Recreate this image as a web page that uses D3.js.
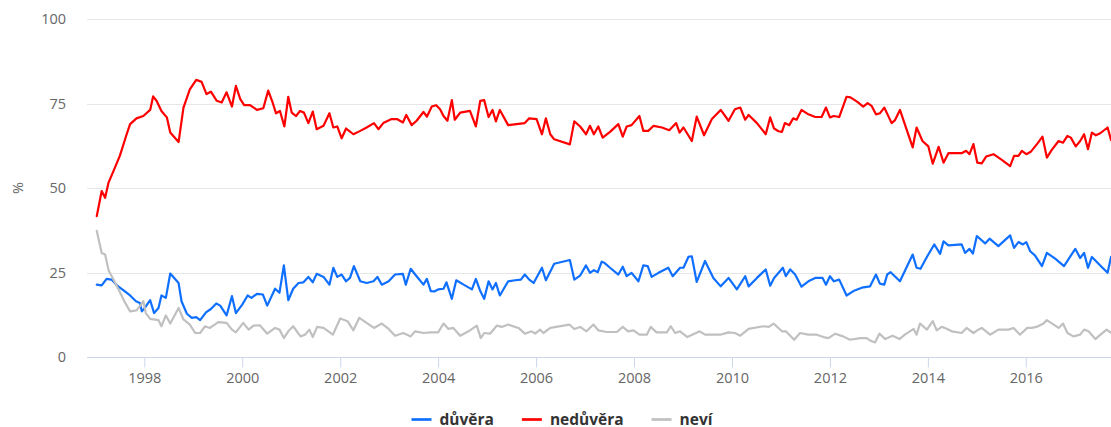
<!DOCTYPE html>
<html>
<head>
  <meta charset="utf-8">
  <title>důvěra / nedůvěra</title>
  <script src="https://d3js.org/d3.v7.min.js"></script>
  <style>
    body { margin: 0; background: #fff; }
    svg { display: block; font-family: "Open Sans", "DejaVu Sans", Arial, sans-serif; }
  </style>
</head>
<body>
  <svg width="1111" height="427"></svg>
  <script>
    // hodnoty: [rok (desetinně), %]
    var duvera = [
      [1997.03,21.4],[1997.13,21.2],[1997.23,23.1],[1997.33,22.9],[1997.44,21.2],[1997.57,19.8],[1997.71,18.2],[1997.83,16.5],[1997.91,16],[1997.95,13.5],
      [1998.01,14.5],[1998.12,16.8],[1998.20,13],[1998.29,14.5],[1998.35,18.2],[1998.44,17.5],[1998.53,24.7],[1998.70,21.9],[1998.76,16.5],[1998.87,12.8],[1998.97,11.6],
      [1999.06,11.8],[1999.14,10.9],[1999.26,13.2],[1999.36,14.2],[1999.47,15.8],[1999.55,15.2],[1999.68,12.3],[1999.79,18],[1999.87,13],
      [2000.00,15.5],[2000.11,18.2],[2000.19,17.5],[2000.30,18.7],[2000.42,18.5],[2000.51,15.2],[2000.67,20.2],[2000.76,19],[2000.85,27.1],[2000.94,16.8],
      [2001.04,20.2],[2001.15,21.9],[2001.25,22.1],[2001.35,23.7],[2001.44,22.1],[2001.52,24.6],[2001.66,23.7],[2001.78,21.4],[2001.86,26.4],[2001.94,23.7],
      [2002.03,24.4],[2002.12,22.4],[2002.20,23.4],[2002.28,26.9],[2002.41,22.4],[2002.54,21.9],[2002.68,22.4],[2002.76,23.7],[2002.85,21.4],[2002.99,22.4],
      [2003.12,24.4],[2003.28,24.6],[2003.34,21.4],[2003.44,26.1],[2003.56,23.9],[2003.70,21.4],[2003.77,23.1],[2003.85,19.5],[2003.92,19.4],
      [2004.00,20],[2004.11,20.2],[2004.17,22.1],[2004.28,17.2],[2004.37,22.7],[2004.52,21.4],[2004.69,20],[2004.77,23.1],[2004.86,19.5],[2004.94,17.2],
      [2005.03,22.4],[2005.11,20],[2005.18,21.9],[2005.26,18.2],[2005.43,22.4],[2005.57,22.7],[2005.69,22.9],[2005.77,24.4],[2005.86,22.9],[2005.95,21.9],
      [2006.12,26.4],[2006.20,22.7],[2006.37,27.6],[2006.69,28.7],[2006.78,22.9],[2006.90,24.1],
      [2007.02,27.1],[2007.10,24.9],[2007.18,25.7],[2007.26,25.1],[2007.34,28.2],[2007.39,27.9],[2007.51,26.4],[2007.68,24.4],[2007.77,26.7],[2007.85,23.9],[2007.95,24.9],
      [2008.09,22.4],[2008.19,27.1],[2008.28,26.9],[2008.36,23.7],[2008.50,24.9],[2008.70,26.4],[2008.79,23.9],[2008.94,26.4],
      [2009.01,26.4],[2009.11,29.6],[2009.18,29.8],[2009.28,22.2],[2009.45,28.4],[2009.62,23.4],[2009.77,20.9],[2009.93,23.4],
      [2010.10,20],[2010.27,23.9],[2010.34,20.9],[2010.51,23.4],[2010.69,25.9],[2010.78,21.1],[2010.86,23.4],
      [2011.04,26.4],[2011.10,23.9],[2011.19,25.9],[2011.29,24.4],[2011.42,20.8],[2011.56,22.4],[2011.70,23.4],[2011.85,23.4],[2011.92,21.4],
      [2012.00,23.9],[2012.08,22.4],[2012.19,22.9],[2012.34,18.2],[2012.48,19.5],[2012.65,20.5],[2012.82,20.9],[2012.94,24.4],
      [2013.02,21.7],[2013.11,21.4],[2013.17,24.4],[2013.24,25.1],[2013.43,22.4],[2013.69,30.3],[2013.77,26.4],[2013.85,26.1],[2013.98,29.6],
      [2014.13,33.3],[2014.25,30.5],[2014.32,34.2],[2014.42,33],[2014.69,33.3],[2014.76,30.8],[2014.85,32],[2014.92,30.6],
      [2015.00,35.8],[2015.17,33.6],[2015.26,35],[2015.44,32.8],[2015.68,36],[2015.76,32.3],[2015.85,34],[2015.94,33.3],
      [2016.01,34],[2016.09,31.3],[2016.19,30],[2016.33,26.9],[2016.43,30.8],[2016.60,29.1],[2016.78,26.9],
      [2017.01,32],[2017.11,29.3],[2017.19,30.8],[2017.27,26.4],[2017.35,29.6],[2017.52,27.1],[2017.67,24.9],[2017.74,29.6]
    ];

    var neduvera = [
      [1997.03,41.7],[1997.13,49.1],[1997.20,47.1],[1997.27,51.6],[1997.37,55],[1997.50,59.5],[1997.64,65.9],[1997.71,68.9],[1997.84,70.6],[1997.98,71.3],
      [1998.12,73.1],[1998.18,77.1],[1998.25,75.8],[1998.35,72.8],[1998.46,70.9],[1998.53,66.4],[1998.70,63.6],[1998.80,73.8],[1998.93,79.2],
      [1999.06,82],[1999.17,81.4],[1999.27,77.8],[1999.36,78.5],[1999.48,75.8],[1999.58,75.3],[1999.68,78.3],[1999.79,74.1],[1999.87,80.2],[1999.96,76.3],
      [2000.04,74.5],[2000.16,74.5],[2000.30,73.1],[2000.43,73.6],[2000.53,78.8],[2000.62,75.3],[2000.69,72.1],[2000.77,72.8],[2000.86,68.2],[2000.94,77],
      [2001.01,72.3],[2001.10,71.3],[2001.18,72.8],[2001.26,72.3],[2001.35,69.2],[2001.44,72.6],[2001.52,67.4],[2001.66,68.4],[2001.78,72.1],[2001.86,67.9],[2001.94,68.2],
      [2002.03,64.7],[2002.12,67.6],[2002.27,65.9],[2002.41,66.9],[2002.54,67.9],[2002.69,69.2],[2002.78,67.4],[2002.88,69.2],
      [2003.05,70.4],[2003.16,70.4],[2003.28,69.4],[2003.35,71.6],[2003.46,68.6],[2003.56,69.9],[2003.70,72.5],[2003.77,71.1],[2003.87,74.1],[2003.96,74.5],
      [2004.04,73.3],[2004.11,71.3],[2004.19,69.9],[2004.28,76],[2004.34,70.2],[2004.45,72.3],[2004.65,72.8],[2004.77,68.2],[2004.86,75.8],[2004.94,76],
      [2005.03,71],[2005.11,73.1],[2005.18,69.7],[2005.26,73.1],[2005.43,68.6],[2005.60,68.9],[2005.77,69.2],[2005.86,70.6],
      [2006.01,70.4],[2006.12,65.9],[2006.20,70.6],[2006.29,65.9],[2006.37,64.4],[2006.69,62.9],[2006.78,69.7],[2006.90,68.2],
      [2007.02,65.9],[2007.10,68.4],[2007.18,65.9],[2007.27,68.2],[2007.36,64.9],[2007.51,66.6],[2007.68,68.9],[2007.77,65.2],[2007.85,68.2],[2007.95,68.6],
      [2008.11,71.3],[2008.19,66.9],[2008.29,66.9],[2008.40,68.4],[2008.57,67.9],[2008.72,67.1],[2008.86,69.2],[2008.93,66.4],
      [2009.01,67.9],[2009.18,63.9],[2009.28,71.1],[2009.43,65.6],[2009.59,70.4],[2009.77,73.1],[2009.93,69.9],
      [2010.06,73.3],[2010.17,73.8],[2010.27,70.2],[2010.34,71.6],[2010.51,69.2],[2010.69,65.9],[2010.78,70.9],[2010.86,67.6],[2010.95,66.8],
      [2011.02,66.6],[2011.08,69.2],[2011.17,68.6],[2011.25,70.6],[2011.32,70.2],[2011.42,73.1],[2011.56,71.8],[2011.70,71],[2011.83,71],[2011.92,73.8],
      [2012.00,70.9],[2012.08,71.3],[2012.19,71],[2012.34,77],[2012.42,76.8],[2012.56,75.5],[2012.68,74.1],[2012.77,75.1],[2012.85,74.3],[2012.94,71.8],
      [2013.02,72.1],[2013.11,73.8],[2013.26,69.2],[2013.33,70.1],[2013.43,73.1],[2013.69,62],[2013.77,67.9],[2013.89,63.9],
      [2014.01,62.3],[2014.10,57.2],[2014.22,62.2],[2014.32,57.5],[2014.42,60.3],[2014.69,60.3],[2014.78,61],[2014.85,60],[2014.93,63],
      [2015.01,57.5],[2015.10,57.3],[2015.19,59.3],[2015.34,60],[2015.51,58.3],[2015.68,56.5],[2015.76,59.5],[2015.85,59.5],[2015.92,61],
      [2016.01,60],[2016.10,60.7],[2016.24,63.2],[2016.34,65.2],[2016.43,59],[2016.53,61.3],[2016.67,63.9],[2016.76,63.4],[2016.85,65.4],[2016.92,64.9],
      [2017.02,62.3],[2017.11,63.9],[2017.19,65.9],[2017.27,61.5],[2017.35,66.4],[2017.43,65.6],[2017.52,66.2],[2017.67,67.9],[2017.74,64.2]
    ];

    var nevi = [
      [1997.03,37.3],[1997.13,30.8],[1997.20,30.3],[1997.27,25.7],[1997.37,22.9],[1997.50,19.2],[1997.61,16],[1997.71,13.5],[1997.84,13.8],[1997.91,15],[1997.98,16.5],
      [1998.03,13],[1998.12,11.3],[1998.29,10.9],[1998.35,9.1],[1998.44,12.3],[1998.53,9.9],[1998.70,14.5],[1998.80,11.1],[1998.93,9.6],
      [1999.04,7.1],[1999.14,7.1],[1999.24,9.1],[1999.34,8.6],[1999.51,10.3],[1999.68,10.1],[1999.79,8.1],[1999.87,7.3],
      [2000.02,10.1],[2000.13,8.1],[2000.23,9.3],[2000.36,9.4],[2000.51,6.9],[2000.67,8.6],[2000.76,8.1],[2000.85,5.6],[2000.94,7.6],
      [2001.04,9.1],[2001.19,6.1],[2001.28,6.6],[2001.37,8.1],[2001.44,5.9],[2001.53,8.9],[2001.66,8.6],[2001.85,6.6],
      [2002.00,11.4],[2002.15,10.6],[2002.27,7.9],[2002.39,11.6],[2002.54,10.1],[2002.69,8.6],[2002.85,9.9],[2002.99,8.3],
      [2003.12,6.3],[2003.29,7.1],[2003.44,6.1],[2003.53,7.6],[2003.70,7.1],[2003.84,7.3],
      [2004.00,7.3],[2004.11,9.9],[2004.21,8.3],[2004.31,8.6],[2004.45,6.3],[2004.62,7.6],[2004.79,9.3],[2004.87,5.6],[2004.94,7.1],
      [2005.06,6.9],[2005.20,9.3],[2005.30,8.9],[2005.43,9.6],[2005.64,8.6],[2005.77,6.9],[2005.91,7.6],[2005.98,6.9],
      [2006.08,8.1],[2006.15,7.1],[2006.29,8.6],[2006.56,9.3],[2006.68,9.6],[2006.78,8.3],[2006.90,8.9],
      [2007.03,7.6],[2007.17,9.6],[2007.27,7.9],[2007.44,7.4],[2007.65,7.4],[2007.77,8.9],[2007.88,7.6],[2007.99,7.9],
      [2008.11,6.6],[2008.26,6.6],[2008.34,8.9],[2008.46,7.3],[2008.67,7.3],[2008.75,9.1],[2008.84,7.1],[2008.94,7.6],
      [2009.09,5.9],[2009.34,7.6],[2009.45,6.6],[2009.76,6.6],[2009.93,7.3],
      [2010.06,7.1],[2010.17,6.3],[2010.34,8.3],[2010.64,9.1],[2010.75,8.9],[2010.85,9.9],
      [2011.02,7.6],[2011.10,7.6],[2011.27,5.1],[2011.39,7.1],[2011.56,6.6],[2011.73,6.6],[2011.87,5.9],[2011.97,5.6],
      [2012.11,6.9],[2012.27,6.1],[2012.41,5.1],[2012.62,5.6],[2012.75,5.6],[2012.82,4.9],[2012.92,4.3],
      [2013.01,6.9],[2013.13,5.3],[2013.28,6.3],[2013.42,5.3],[2013.53,6.6],[2013.71,8.3],[2013.77,6.6],[2013.84,9.9],[2013.98,8.1],
      [2014.10,10.6],[2014.18,7.9],[2014.28,8.9],[2014.35,8.6],[2014.49,7.6],[2014.69,7.1],[2014.79,8.6],[2014.93,7.1],
      [2015.01,7.9],[2015.10,8.6],[2015.27,6.6],[2015.44,8.1],[2015.65,8.1],[2015.75,8.6],[2015.88,6.6],
      [2016.03,8.6],[2016.12,8.6],[2016.22,8.9],[2016.36,9.9],[2016.43,10.9],[2016.60,9.3],[2016.67,8.6],[2016.76,9.9],[2016.85,7.1],[2016.97,6.1],
      [2017.11,6.6],[2017.19,8.1],[2017.28,7.6],[2017.42,5.3],[2017.50,6.3],[2017.65,8.1],[2017.74,7.1]
    ];

    var seriesNames = ["důvěra", "nedůvěra", "neví"];
    var seriesColors = ["#0f6fff", "#ff0000", "#c0c0c0"];
    var yTicks = [0, 25, 50, 75, 100];
    var xTicks = [1998, 2000, 2002, 2004, 2006, 2008, 2010, 2012, 2014, 2016];

    (function () {
      var svg = d3.select("svg");
      var m = { left: 87, right: 1112, top: 19, bottom: 357 };

      var x = d3.scaleLinear().domain([1996.83, 2017.76]).range([m.left, m.right]);
      var y = d3.scaleLinear().domain([0, 100]).range([m.bottom, m.top]);
      var base = Math.round(m.bottom) + 0.5;

      // mřížka
      svg.append("g")
        .selectAll("line")
        .data(yTicks.filter(function (d) { return d > 0; }))
        .enter()
        .append("line")
        .attr("x1", m.left).attr("x2", 1111)
        .attr("y1", function (d) { return Math.round(y(d)) + 0.5; })
        .attr("y2", function (d) { return Math.round(y(d)) + 0.5; })
        .attr("stroke", "#e6e6e6");

      // osa Y
      var yAxis = svg.append("g")
        .attr("transform", "translate(" + (m.left - 21) + ",0)")
        .call(d3.axisLeft(y).tickValues(yTicks).tickSize(0).tickPadding(0));
      yAxis.attr("font-family", null).attr("font-size", null);
      yAxis.select(".domain").remove();
      yAxis.selectAll("text")
        .attr("fill", "#666")
        .style("font-size", "14.5px");

      svg.append("text")
        .attr("transform", "translate(18," + y(50) + ") rotate(-90)")
        .attr("text-anchor", "middle")
        .attr("dy", "0.35em")
        .attr("fill", "#666")
        .style("font-size", "14.5px")
        .text("%");

      // osa X
      var xAxis = svg.append("g")
        .attr("transform", "translate(0," + base + ")")
        .call(d3.axisBottom(x).tickValues(xTicks).tickFormat(d3.format("d")).tickSize(10).tickPadding(0));
      xAxis.attr("font-family", null).attr("font-size", null);
      xAxis.select(".domain").remove();
      xAxis.selectAll(".tick line").attr("stroke", "#ccd6eb");
      xAxis.selectAll("text")
        .attr("y", 20)
        .attr("dy", "0.35em")
        .attr("fill", "#666")
        .style("font-size", "14.5px");

      svg.append("line")
        .attr("x1", m.left).attr("x2", 1111)
        .attr("y1", base).attr("y2", base)
        .attr("stroke", "#ccd6eb");

      // linie
      var line = d3.line()
        .x(function (d) { return x(d[0]); })
        .y(function (d) { return y(d[1]); });

      [duvera, neduvera, nevi].forEach(function (s, i) {
        svg.append("path")
          .datum(s)
          .attr("fill", "none")
          .attr("stroke", seriesColors[i])
          .attr("stroke-width", 2.2)
          .attr("stroke-linejoin", "round")
          .attr("stroke-linecap", "round")
          .attr("d", line);
      });

      // legenda
      var items = svg.append("g")
        .selectAll("g")
        .data(seriesNames)
        .enter()
        .append("g");
      items.append("line")
        .attr("x1", 0).attr("x2", 20)
        .attr("y1", 0).attr("y2", 0)
        .attr("stroke", function (d, i) { return seriesColors[i]; })
        .attr("stroke-width", 2.7);
      items.append("text")
        .attr("x", 28)
        .attr("dy", "0.35em")
        .attr("fill", "#333")
        .style("font-size", "15.5px")
        .style("font-weight", "bold")
        .text(function (d) { return d; });

      var pos = 0, gap = 28, widths = [];
      items.each(function () {
        widths.push(28 + d3.select(this).select("text").node().getComputedTextLength());
      });
      var total = d3.sum(widths) + gap * (widths.length - 1);
      var startX = 562 - total / 2;
      items.attr("transform", function (d, i) {
        var t = "translate(" + (startX + pos) + ",419.5)";
        pos += widths[i] + gap;
        return t;
      });
    })();
  </script>
</body>
</html>
